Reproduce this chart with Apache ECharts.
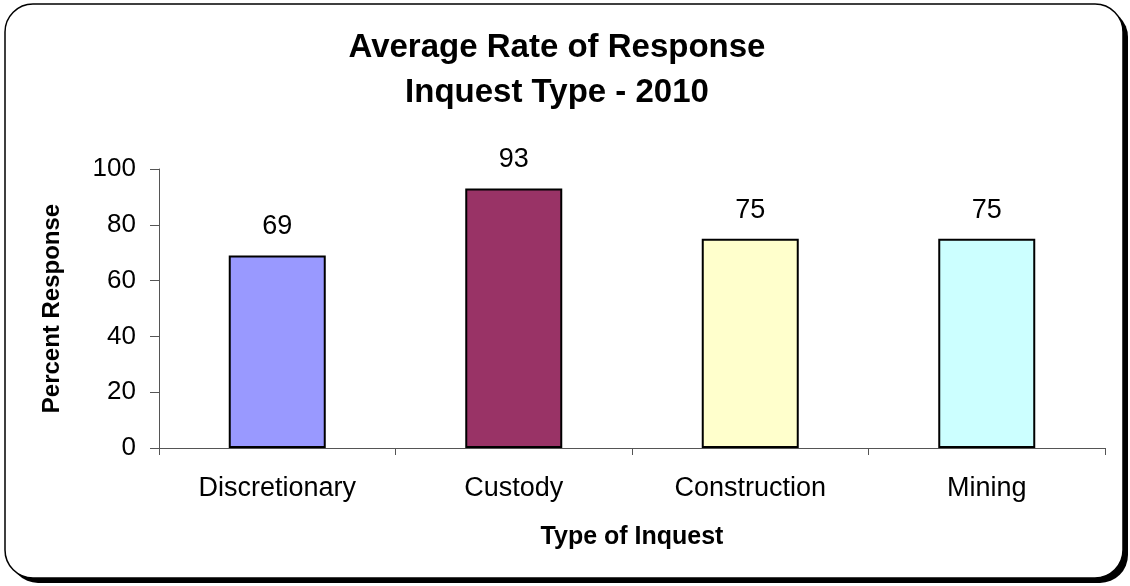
<!DOCTYPE html>
<html>
<head>
<meta charset="utf-8">
<script src="https://cdn.jsdelivr.net/npm/echarts@6/dist/echarts.min.js"></script>
<style>
html,body{margin:0;padding:0;background:#fff;}
#chart{width:1130px;height:586px;}
</style>
</head>
<body>
<div id="chart"></div>
<script>
const categories = ['Discretionary', 'Custody', 'Construction', 'Mining'];
const values = [69, 93, 75, 75];
const barColors = ['#9999FF', '#993366', '#FFFFCC', '#CCFFFF'];
const yTicks = [0, 20, 40, 60, 80, 100];
const titleLines = ['Average Rate of Response', 'Inquest Type - 2010'];
const xName = 'Type of Inquest';
const yName = 'Percent Response';

const FONT = 'Liberation Sans, Arial, sans-serif';
const chart = echarts.init(document.getElementById('chart'), null, {renderer: 'canvas'});
chart.setOption({
  backgroundColor: '#fff',
  animation: false,
  graphic: [{
    type: 'rect',
    z: -20,
    silent: true,
    shape: {x: 10, y: 9, width: 1118, height: 574, r: 28},
    style: {fill: '#000'}
  }, {
    type: 'rect',
    z: -10,
    silent: true,
    shape: {x: 5, y: 4, width: 1118, height: 574, r: 28},
    style: {fill: '#fff', stroke: '#000', lineWidth: 1.5}
  }],
  title: {
    text: titleLines.join('\n'),
    left: 552,
    textAlign: 'center',
    top: 20,
    textStyle: {fontFamily: FONT, fontWeight: 'bold', fontSize: 33, lineHeight: 45, color: '#000'}
  },
  grid: {left: 159, right: 25, top: 169, bottom: 138},
  xAxis: {
    type: 'category',
    data: categories,
    name: xName,
    nameLocation: 'middle',
    nameGap: 77,
    nameTextStyle: {fontFamily: FONT, fontWeight: 'bold', fontSize: 25, color: '#000'},
    axisLine: {lineStyle: {color: '#555', width: 1}},
    axisTick: {show: true, length: 7, lineStyle: {color: '#555'}},
    axisLabel: {fontFamily: FONT, fontSize: 27, color: '#000', margin: 27, interval: 0}
  },
  yAxis: {
    type: 'value',
    min: yTicks[0],
    max: yTicks[yTicks.length - 1],
    interval: yTicks[1] - yTicks[0],
    name: yName,
    nameLocation: 'middle',
    nameGap: 95,
    nameTextStyle: {fontFamily: FONT, fontWeight: 'bold', fontSize: 24, color: '#000'},
    axisLine: {show: true, lineStyle: {color: '#555', width: 1}},
    axisTick: {show: true, length: 9, lineStyle: {color: '#555'}},
    splitLine: {show: false},
    axisLabel: {fontFamily: FONT, fontSize: 26, color: '#000', margin: 23}
  },
  series: [{
    type: 'bar',
    data: values.map((v, i) => ({value: v, itemStyle: {color: barColors[i]}})),
    barWidth: 97,
    itemStyle: {borderColor: '#000', borderWidth: 2},
    label: {show: true, position: 'top', distance: 15, fontFamily: FONT, fontSize: 27, color: '#000'}
  }]
});
</script>
</body>
</html>
